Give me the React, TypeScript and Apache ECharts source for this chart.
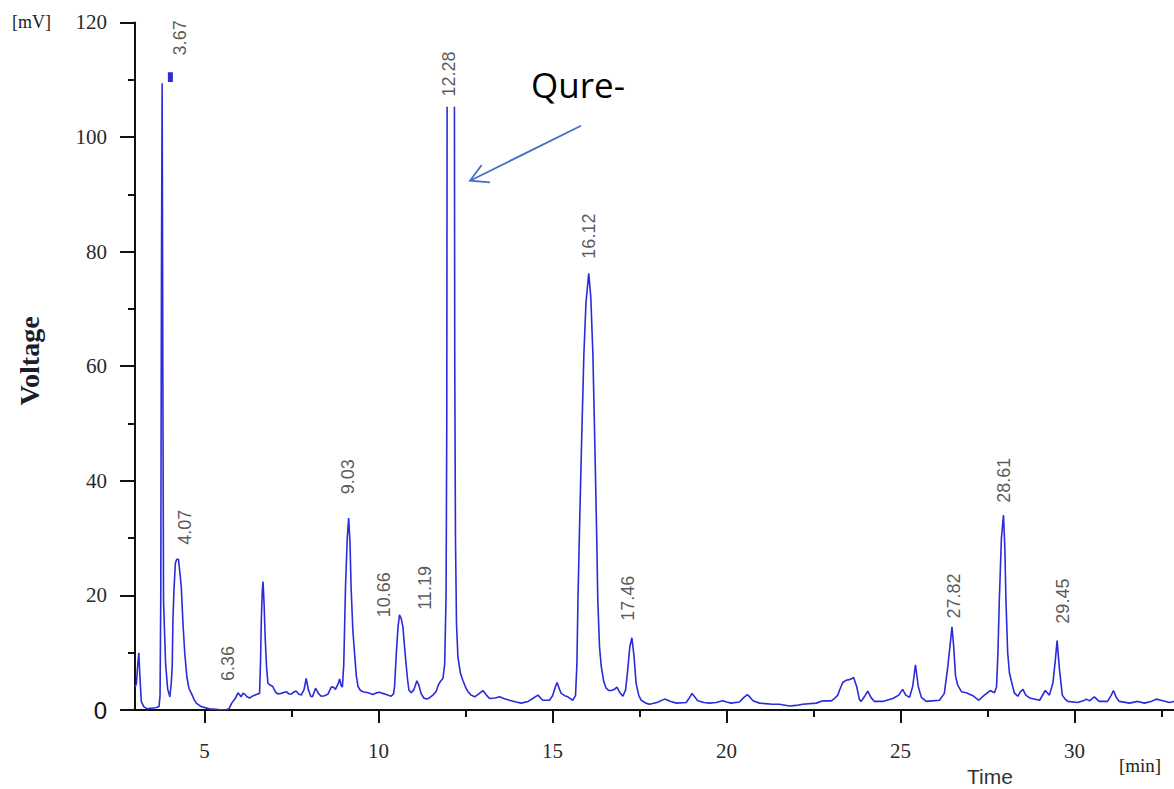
import React, { useEffect, useRef } from 'react';
import * as echarts from 'echarts';

// Chromatogram trace, [time (min), voltage (mV)]
const traceEarly: [number, number][] = [
  [3.00, 4.0], [3.04, 4.6], [3.08, 8.0], [3.11, 10.0], [3.14, 6.0], [3.18, 1.5], [3.25, 0.6], [3.35, 0.2],
  [3.45, 0.3], [3.60, 0.4], [3.69, 0.6], [3.72, 2.5], [3.74, 19.0], [3.76, 75.0], [3.78, 109.4], [3.80, 60.0],
  [3.82, 19.0], [3.88, 8.0], [3.94, 3.6], [3.97, 3.0], [4.00, 2.3], [4.04, 4.5], [4.07, 7.6], [4.09, 15.7],
  [4.12, 21.0], [4.16, 25.6], [4.20, 26.3], [4.25, 26.3], [4.29, 24.0], [4.33, 21.5], [4.38, 15.0], [4.43, 9.9],
  [4.49, 5.8], [4.55, 3.8], [4.62, 2.9], [4.70, 1.8], [4.76, 1.2], [4.90, 0.6], [5.14, 0.2], [5.40, 0.1],
  [5.62, 0.05], [5.70, 0.2], [5.78, 1.2], [5.88, 2.0], [5.96, 3.0], [6.05, 2.3], [6.10, 2.9], [6.15, 2.8],
  [6.22, 2.3], [6.29, 2.1], [6.40, 2.5], [6.53, 2.8], [6.58, 2.9], [6.61, 9.0], [6.63, 15.7], [6.66, 21.0],
  [6.68, 22.4], [6.71, 18.5], [6.74, 12.8], [6.78, 7.5], [6.82, 4.7], [6.87, 4.4], [6.96, 4.1], [7.03, 3.2],
  [7.10, 2.8], [7.20, 2.9], [7.25, 3.0], [7.35, 3.2], [7.42, 2.8], [7.50, 2.8], [7.56, 3.1], [7.63, 3.3],
  [7.70, 2.8], [7.78, 2.6], [7.86, 3.6], [7.92, 5.5], [7.98, 3.6], [8.05, 2.4], [8.10, 2.3], [8.19, 3.8],
  [8.27, 2.9], [8.35, 2.4], [8.45, 2.5], [8.55, 2.8], [8.64, 4.0], [8.70, 4.0], [8.76, 3.6], [8.84, 4.6],
  [8.88, 5.4], [8.93, 4.2], [8.96, 4.0],
];

const traceRise: [number, number][] = [
  [9.00, 8.0], [9.05, 21.5], [9.10, 30.0], [9.14, 33.5], [9.18, 29.0], [9.21, 21.5], [9.26, 14.0], [9.31, 9.9],
  [9.36, 6.0], [9.41, 4.1], [9.48, 3.4], [9.55, 3.2], [9.70, 3.0], [9.84, 2.7], [9.95, 3.0], [10.03, 3.1],
  [10.12, 2.9], [10.22, 2.7], [10.36, 2.4], [10.43, 2.8], [10.46, 4.1], [10.51, 9.9], [10.56, 14.5], [10.60, 16.6],
  [10.65, 16.0], [10.70, 14.5], [10.74, 11.5], [10.78, 8.7], [10.83, 5.5], [10.87, 3.5], [10.94, 3.0], [11.02, 3.6],
  [11.10, 5.1], [11.16, 4.3], [11.22, 2.9], [11.30, 2.1], [11.38, 1.9], [11.46, 2.1], [11.56, 2.6], [11.65, 3.2],
  [11.72, 4.4], [11.78, 5.0], [11.85, 5.5], [11.90, 8.0], [11.94, 20.0], [11.96, 50.0], [11.97, 105.3],
];

const traceFall: [number, number][] = [
  [12.18, 105.3], [12.19, 60.0], [12.21, 30.0], [12.24, 15.0], [12.28, 9.3], [12.35, 6.5], [12.42, 5.2],
  [12.50, 4.0], [12.57, 3.2], [12.66, 2.6], [12.76, 2.3], [12.88, 2.8], [13.00, 3.4], [13.10, 2.6], [13.19, 2.0],
  [13.35, 2.1], [13.48, 2.3], [13.60, 2.0], [13.76, 1.7], [13.95, 1.4], [14.10, 1.2], [14.30, 1.5], [14.43, 2.0],
  [14.58, 2.6], [14.72, 1.7], [14.91, 1.7], [15.00, 2.5], [15.08, 4.0], [15.13, 4.8], [15.20, 3.6], [15.25, 2.9],
  [15.35, 2.5], [15.44, 2.3], [15.58, 1.7], [15.66, 2.5], [15.70, 8.0], [15.73, 19.2], [15.78, 33.0], [15.84, 48.0],
  [15.90, 62.0], [15.96, 71.0], [16.04, 76.2], [16.10, 72.0], [16.16, 62.0], [16.22, 45.0], [16.27, 30.0],
  [16.30, 19.2], [16.35, 11.0], [16.40, 7.6], [16.47, 5.0], [16.54, 3.8], [16.62, 3.4], [16.69, 3.4], [16.78, 3.6],
  [16.85, 4.0], [16.94, 3.0], [17.02, 2.4], [17.10, 3.5], [17.16, 7.0], [17.22, 11.0], [17.28, 12.6], [17.34, 9.5],
  [17.40, 4.7], [17.48, 2.5], [17.55, 1.7], [17.68, 1.2], [17.79, 1.0], [18.00, 1.3], [18.22, 1.9], [18.40, 1.5],
  [18.56, 1.2], [18.84, 1.3], [18.94, 2.2], [19.01, 2.9], [19.10, 2.2], [19.17, 1.6], [19.35, 1.3], [19.51, 1.2],
  [19.70, 1.3], [19.89, 1.6], [20.00, 1.4], [20.13, 1.2], [20.37, 1.4], [20.50, 2.2], [20.60, 2.7], [20.68, 2.2],
  [20.76, 1.6], [20.95, 1.2], [21.33, 1.0], [21.52, 1.0], [21.81, 0.7], [22.00, 0.8], [22.19, 1.0], [22.58, 1.2],
];

const traceLate: [number, number][] = [
  [22.77, 1.6], [23.01, 1.6], [23.10, 2.0], [23.20, 2.6], [23.25, 3.5], [23.34, 4.8], [23.44, 5.2], [23.52, 5.3],
  [23.58, 5.4], [23.65, 5.7], [23.74, 4.1], [23.82, 1.8], [23.87, 1.5], [23.96, 2.3], [24.06, 3.3], [24.15, 2.2],
  [24.25, 1.5], [24.49, 1.5], [24.78, 2.0], [24.95, 2.6], [25.06, 3.6], [25.15, 2.6], [25.26, 2.2], [25.35, 4.1],
  [25.43, 7.9], [25.51, 4.1], [25.60, 2.2], [25.74, 1.5], [25.90, 1.6], [26.12, 1.7], [26.26, 2.9], [26.36, 7.6],
  [26.44, 12.2], [26.48, 14.5], [26.53, 11.0], [26.58, 6.0], [26.64, 4.4], [26.75, 3.2], [26.89, 3.0], [27.08, 2.5],
  [27.25, 1.7], [27.41, 2.6], [27.58, 3.4], [27.70, 3.0], [27.76, 4.0], [27.80, 10.0], [27.84, 19.2], [27.90, 30.0],
  [27.96, 34.0], [28.00, 28.0], [28.03, 19.2], [28.08, 10.0], [28.13, 6.5], [28.18, 5.2], [28.27, 3.0], [28.37, 2.4],
  [28.45, 3.2], [28.52, 3.6], [28.60, 2.6], [28.71, 2.1], [29.00, 1.7], [29.16, 3.4], [29.28, 2.6], [29.38, 4.7],
  [29.45, 8.7], [29.50, 12.1], [29.57, 7.0], [29.65, 2.6], [29.73, 1.9], [29.81, 1.5], [30.09, 1.3], [30.25, 1.6],
  [30.34, 1.9], [30.43, 1.6], [30.57, 2.3], [30.71, 1.5], [30.95, 1.5], [31.05, 2.5], [31.12, 3.4], [31.20, 2.2],
  [31.29, 1.5], [31.58, 1.2], [31.82, 1.5], [32.01, 1.2], [32.20, 1.5], [32.35, 1.9], [32.54, 1.6], [32.73, 1.3],
  [32.86, 1.5],
];

// small blue tick next to the 3.67 peak
const markerTick: [number, number][] = [[4.017, 109.6], [4.017, 111.3]];

// peak annotations (text, label centre in data coordinates)
const peakLabels = ['3.67', '4.07', '6.36', '9.03', '10.66', '11.19', '12.28', '16.12', '17.46', '27.82', '28.61', '29.45'];
const labelTimes = [4.28, 4.45, 5.66, 9.11, 10.17, 11.32, 12.01, 16.06, 17.16, 26.55, 27.96, 29.66];
const labelLevels = [117.3, 31.9, 8.1, 40.7, 20.1, 21.3, 111.0, 82.7, 19.5, 19.9, 40.1, 19.0];

const xMajorTicks = [5, 10, 15, 20, 25, 30];
const xMinorTicks = [7.5, 12.5, 17.5, 22.5, 27.5, 32.5];
const yMin = 0;
const yMax = 120;
const yStep = 20;
const xMin = 3;
const xMax = 32.86;

const LINE = '#2b2bd9';
const AXIS = '#111';

export default function App() {
  const ref = useRef<HTMLDivElement>(null);

  useEffect(() => {
    if (!ref.current) return;
    const chart = echarts.init(ref.current, null, { renderer: 'svg' });

    const traceData: any[] = [
      ...traceEarly,
      ...traceRise,
      [12.08, '-'],
      ...traceFall,
      ...traceLate,
    ];

    const labelData = peakLabels.map((name, i) => ({ name, value: [labelTimes[i], labelLevels[i]] }));

    const arrowColor = '#4472C4';

    chart.setOption({
      animation: false,
      backgroundColor: '#ffffff',
      grid: { left: 135, right: 0, top: 22.4, bottom: 79, containLabel: false },
      xAxis: [
        {
          type: 'value',
          min: xMin,
          max: xMax,
          position: 'bottom',
          axisLine: { show: true, onZero: false, lineStyle: { color: AXIS, width: 2 } },
          axisTick: { show: true, length: 13, customValues: xMajorTicks, lineStyle: { color: AXIS, width: 2 } },
          axisLabel: {
            show: true,
            customValues: xMajorTicks,
            margin: 30,
            fontFamily: 'Liberation Serif',
            fontSize: 21,
            color: '#2a2a2a',
          },
          splitLine: { show: false },
        },
        {
          type: 'value',
          min: xMin,
          max: xMax,
          position: 'bottom',
          axisLine: { show: false },
          axisTick: { show: true, length: 7, customValues: xMinorTicks, lineStyle: { color: AXIS, width: 2 } },
          axisLabel: { show: false },
          splitLine: { show: false },
        },
      ],
      yAxis: {
        type: 'value',
        min: yMin,
        max: yMax,
        interval: yStep,
        axisLine: { show: true, lineStyle: { color: AXIS, width: 2 } },
        axisTick: { show: true, length: 15, lineStyle: { color: AXIS, width: 2 } },
        minorTick: { show: true, splitNumber: 2, length: 7, lineStyle: { color: AXIS, width: 2 } },
        axisLabel: {
          margin: 28,
          fontFamily: 'Liberation Serif',
          fontSize: 21,
          color: '#2a2a2a',
          formatter: (v: number) => (v === 0 ? '{z|0}' : String(v)),
          rich: { z: { fontFamily: 'Liberation Sans', fontSize: 24, color: '#111' } },
        },
        splitLine: { show: false },
        minorSplitLine: { show: false },
      },
      series: [
        {
          type: 'line',
          data: traceData,
          xAxisIndex: 0,
          showSymbol: false,
          symbol: 'none',
          connectNulls: false,
          lineStyle: { color: LINE, width: 1.6 },
          z: 2,
        },
        {
          type: 'line',
          data: markerTick,
          xAxisIndex: 0,
          symbol: 'none',
          lineStyle: { color: LINE, width: 5, cap: 'butt' },
          z: 2,
        },
        {
          type: 'scatter',
          data: labelData,
          xAxisIndex: 0,
          symbolSize: 1,
          itemStyle: { color: 'rgba(0,0,0,0)' },
          label: {
            show: true,
            position: 'inside',
            rotate: 90,
            formatter: '{b}',
            fontFamily: 'Liberation Sans',
            fontSize: 18,
            color: '#2e2e2e',
          },
          z: 3,
        },
      ],
      graphic: [
        {
          type: 'text',
          x: 12,
          y: 22,
          style: { text: '[mV]', fontFamily: 'Liberation Serif', fontSize: 18, fill: '#222', textAlign: 'left', textVerticalAlign: 'middle' },
        },
        {
          type: 'text',
          x: 29,
          y: 361,
          rotation: Math.PI / 2,
          style: { text: 'Voltage', fontFamily: 'Liberation Serif', fontWeight: 'bold', fontSize: 28, fill: '#1c1c2c', textAlign: 'center', textVerticalAlign: 'middle' },
        },
        {
          type: 'text',
          x: 1140,
          y: 765,
          style: { text: '[min]', fontFamily: 'Liberation Serif', fontSize: 19, fill: '#222', textAlign: 'center', textVerticalAlign: 'middle' },
        },
        {
          type: 'text',
          x: 990,
          y: 776,
          style: { text: 'Time', fontFamily: 'Liberation Sans', fontSize: 21, fill: '#333', textAlign: 'center', textVerticalAlign: 'middle' },
        },
        {
          type: 'text',
          x: 531,
          y: 84,
          style: { text: 'Qure-', fontFamily: 'Open Sans', fontSize: 35, fill: '#000', textAlign: 'left', textVerticalAlign: 'middle' },
        },
        {
          type: 'line',
          shape: { x1: 581, y1: 125.7, x2: 470, y2: 180.7 },
          style: { stroke: arrowColor, lineWidth: 1.8 },
        },
        {
          type: 'polyline',
          shape: { points: [[481.7, 165], [470, 180.7], [490, 182.3]] },
          style: { stroke: arrowColor, lineWidth: 1.8, fill: 'none' },
        },
      ],
    });

    return () => chart.dispose();
  }, []);

  return (
    <div
      ref={ref}
      style={{ position: 'fixed', left: 0, top: 0, width: 1174, height: 789, background: '#fff' }}
    />
  );
}
